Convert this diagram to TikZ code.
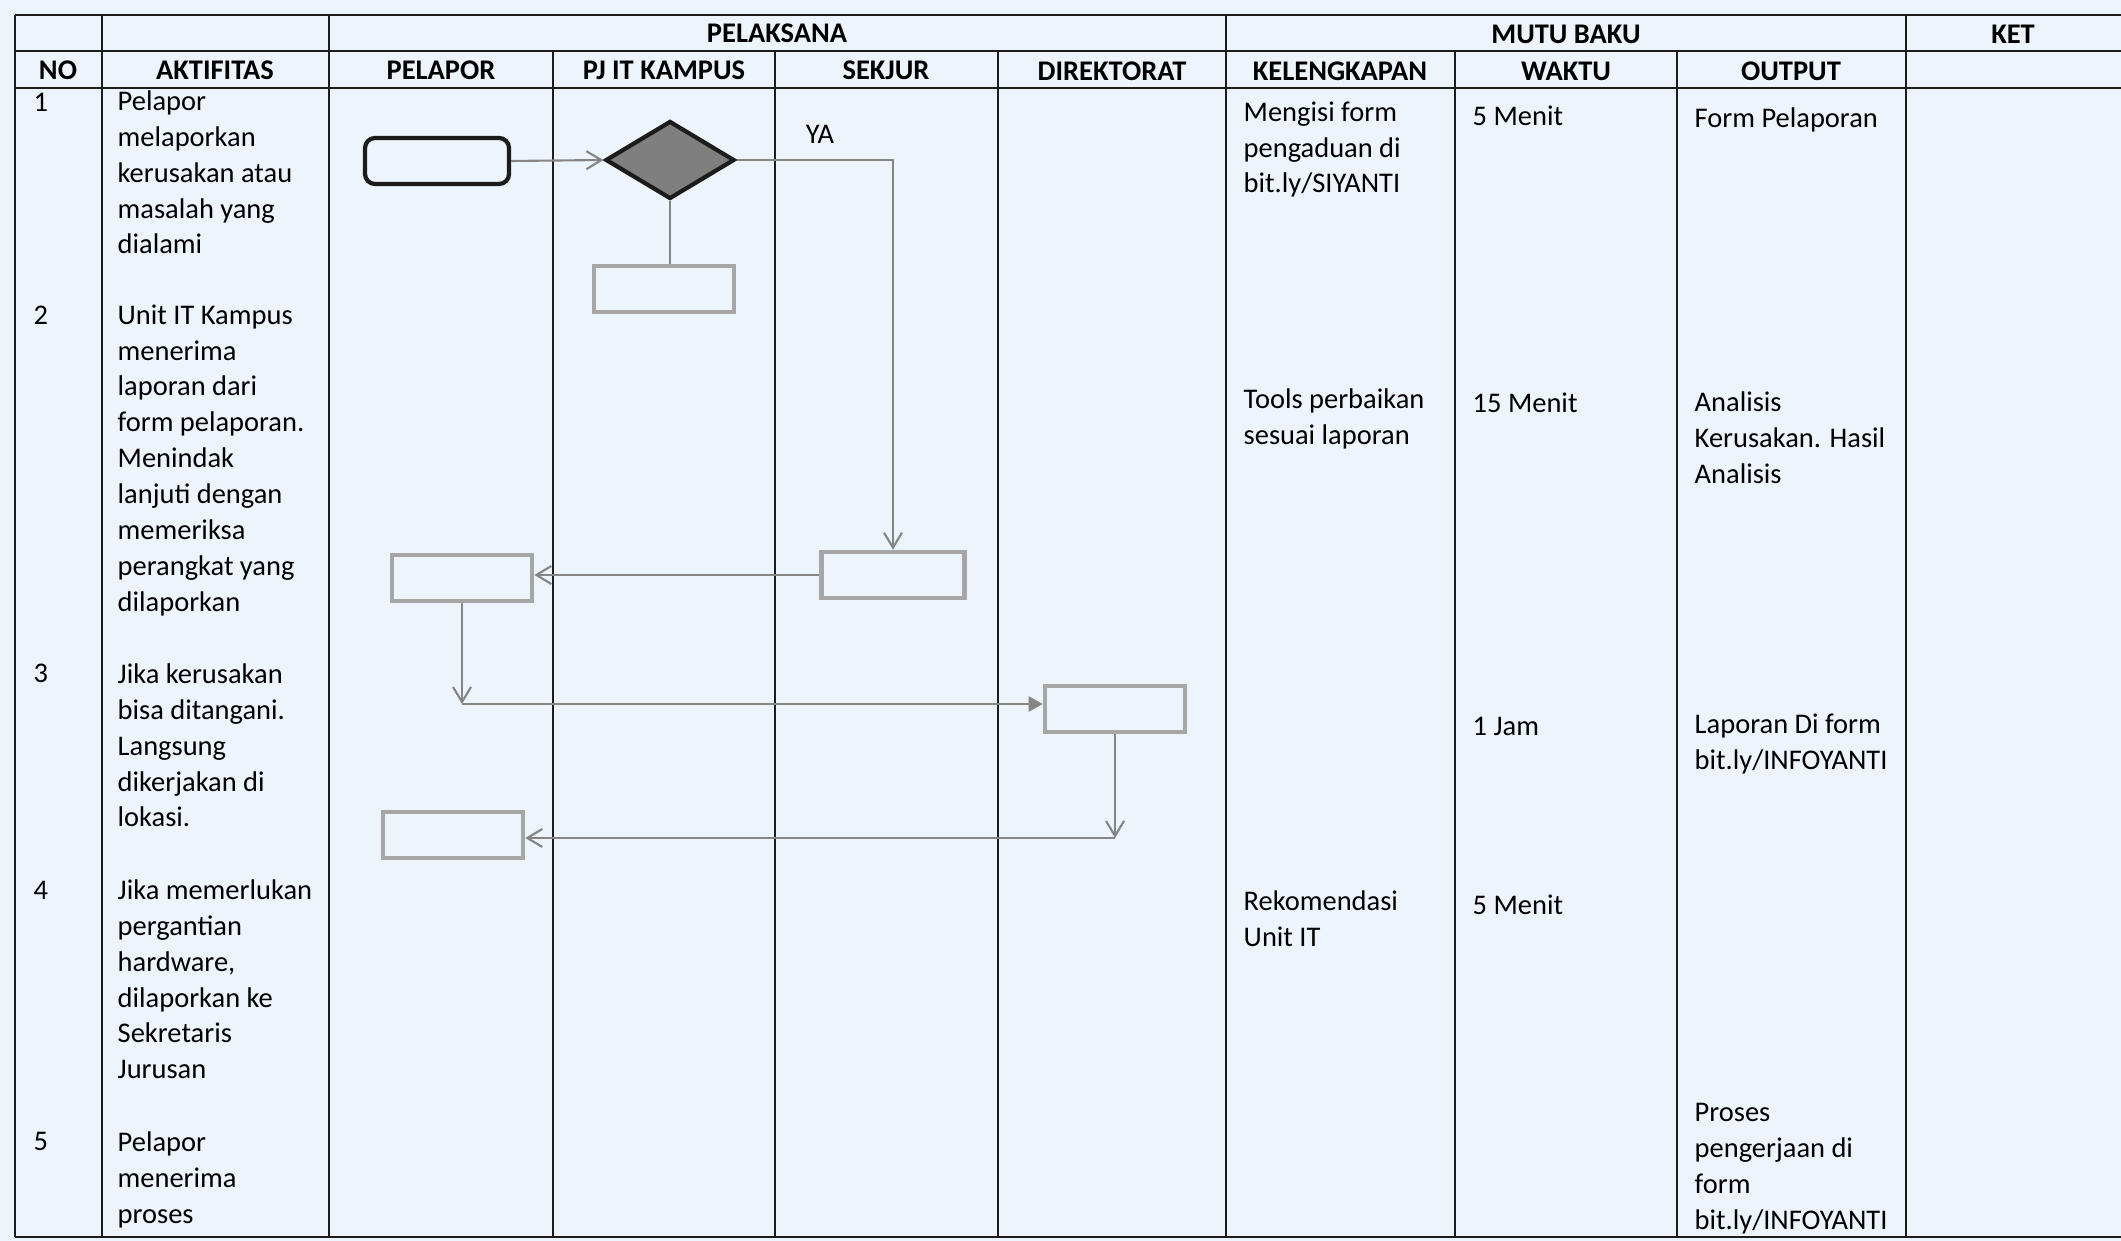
\documentclass[tikz,border=0pt]{standalone}
\usepackage{fontspec}
\setmainfont{Carlito}
\usetikzlibrary{arrows.meta,shapes.geometric}
\definecolor{paper}{HTML}{EEF4FC}
\definecolor{ink}{HTML}{1C1C1C}
\definecolor{boxgray}{HTML}{A6A6A6}
\definecolor{linkgray}{HTML}{858585}
\definecolor{diafill}{HTML}{7F7F7F}
\newcommand{\bodyfont}{\fontsize{8.1}{10.2}\selectfont}

\begin{document}
\begin{tikzpicture}[x=0.1mm,y=-0.1mm,
		grid/.style={ink,line width=0.5pt},
		head/.style={font=\bodyfont\bfseries,inner sep=0pt},
		cell/.style={anchor=north west,inner sep=0pt,align=left,font=\bodyfont,execute at begin node=\strut},
		proc/.style={draw=boxgray,line width=1.3pt,minimum width=14mm,minimum height=4.6mm,inner sep=0pt},
		link/.style={linkgray,line width=0.6pt},
		barb/.style={-{Straight Barb[length=1.5mm,width=1.8mm]}},
		tri/.style={-{Triangle[length=1.4mm,width=1.5mm]}}]
		\useasboundingbox (0,0) rectangle (2121,1241);
		\fill[paper] (0,0) rectangle (2121,1241);
		\draw[grid] (15,15) -- (2121,15) (15,51) -- (2121,51) (15,88) -- (2121,88) (15,1237) -- (2121,1237);
		\foreach \cx in {15,102,329,1226,1906}
		\draw[grid] (\cx,15) -- (\cx,1237);
		\foreach \cx in {553,775,998,1455,1677}
		\draw[grid] (\cx,51) -- (\cx,1237);

		\node[head] (pelaksana) at (777,33) {PELAKSANA};
		\node[head] (mutubaku) at (1566,34) {MUTU BAKU};
		\node[head] (ket) at (2013,34) {KET};
		\node[head] (no) at (58,70) {NO};
		\node[head] (aktifitas) at (215,70) {AKTIFITAS};
		\node[head] (pelapor) at (441,70) {PELAPOR};
		\node[head] (pjit) at (664,70) {PJ IT KAMPUS};
		\node[head] (sekjur) at (886,70) {SEKJUR};
		\node[head] (direktorat) at (1112,71) {DIREKTORAT};
		\node[head] (kelengkapan) at (1340,71) {KELENGKAPAN};
		\node[head] (waktu) at (1566,71) {WAKTU};
		\node[head] (output) at (1791,71) {OUTPUT};

		\node[cell] (no1) at (33,86) {1};
		\node[cell] (no2) at (33,299) {2};
		\node[cell] (no3) at (33,657) {3};
		\node[cell] (no4) at (33,874) {4};
		\node[cell] (no5) at (33,1125) {5};
		\node[cell] (act1) at (117,90) {Pelapor\\melaporkan\\kerusakan atau\\masalah yang\\dialami};
		\node[cell] (act2) at (117,304) {Unit IT Kampus\\menerima\\laporan dari\\form pelaporan.\\Menindak\\lanjuti dengan\\memeriksa\\perangkat yang\\dilaporkan};
		\node[cell] (act3) at (117,663) {Jika kerusakan\\bisa ditangani.\\Langsung\\dikerjakan di\\lokasi.};
		\node[cell] (act4) at (117,879) {Jika memerlukan\\pergantian\\hardware,\\dilaporkan ke\\Sekretaris\\Jurusan};
		\node[cell] (act5) at (117,1131) {Pelapor\\menerima\\proses};

		\node[cell] (kel1) at (1243,101) {Mengisi form\\pengaduan di\\bit.ly/SIYANTI};
		\node[cell] (kel2) at (1243,388) {Tools perbaikan\\sesuai laporan};
		\node[cell] (kel3) at (1243,890) {Rekomendasi\\Unit IT};
		\node[cell] (wkt1) at (1472,100) {5 Menit};
		\node[cell] (wkt2) at (1472,387) {15 Menit};
		\node[cell] (wkt3) at (1472,710) {1 Jam};
		\node[cell] (wkt4) at (1472,889) {5 Menit};
		\node[cell] (out1) at (1694,102) {Form Pelaporan};
		\node[cell] (out2) at (1694,391) {Analisis\\Kerusakan. Hasil\\Analisis};
		\node[cell] (out3) at (1694,713) {Laporan Di form\\bit.ly/INFOYANTI};
		\node[cell] (out4) at (1694,1103) {Proses\\pengerjaan di\\form\\bit.ly/INFOYANTI};

		\node[draw=ink,line width=1.2pt,rounded corners=1mm,minimum width=14.4mm,minimum height=4.6mm,inner sep=0pt] (start) at (437,161) {};
		\node[diamond,draw=ink,fill=diafill,line width=1.2pt,minimum width=12.9mm,minimum height=7.8mm,inner sep=0pt] (cek) at (670,160) {};
		\node[proc] (pjbox) at (664,289) {};
		\node[proc,minimum width=14.3mm] (sekbox) at (893,575) {};
		\node[proc] (pelbox1) at (462,578) {};
		\node[proc] (dirbox) at (1115,709) {};
		\node[proc] (pelbox2) at (453,835) {};
		\node[font=\bodyfont,inner sep=0pt] (ya) at (820,134) {YA};
		\coordinate (turn1) at (462,704);
		\coordinate (turn2) at (1115,838);

		\draw[link,barb] (start.east) -- (cek.west);
		\draw[link] (cek.south) -- (cek.south |- pjbox.north);
		\draw[link,barb] (cek.east) -| (sekbox.north);
		\draw[link,barb] (sekbox.west) -- (sekbox.west -| pelbox1.east);
		\draw[link,barb] (pelbox1.south) -- (turn1);
		\draw[link,tri] (turn1) -- (turn1 -| dirbox.west);
		\draw[link,barb] (dirbox.south) -- (turn2);
		\draw[link,barb] (turn2) -- (turn2 -| pelbox2.east);
\end{tikzpicture}
\end{document}
